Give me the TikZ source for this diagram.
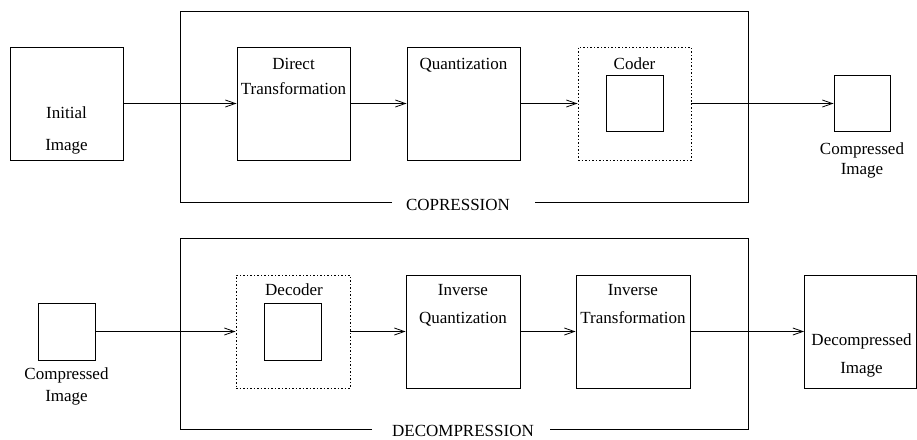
\documentclass[tikz,border=0pt]{standalone}
\usepackage{fontspec}
\setmainfont{Liberation Serif}
\usetikzlibrary{arrows.meta}
\begin{document}
\begin{tikzpicture}[x=1pt,y=-1pt,
  box/.style={draw,line width=0.9pt,inner sep=0pt,minimum width=113pt,minimum height=113pt},
  sbox/.style={draw,line width=0.9pt,inner sep=0pt,minimum width=57pt,minimum height=57pt},
  dbox/.style={box,dash pattern=on 1.5pt off 2pt},
  lbl/.style={anchor=base,inner sep=0pt,font=\fontsize{17}{20}\selectfont},
  frame/.style={line width=0.9pt},
  arr/.style={line width=0.9pt,-{Straight Barb[length=10pt,width=7pt,line width=0.8pt]}}]
\useasboundingbox (0,0) rectangle (917,439);
% ---------- compression ----------
\draw[frame] (392,202) -- (180,202) -- (180,11) -- (748,11) -- (748,202) -- (535,202);
\node[lbl] (lc) at (458,210) {COPRESSION};
\node[box] (init) at (66.5,103.5) {};
\node[lbl] at (66.5,118) {Initial};
\node[lbl] at (66.5,150) {Image};
\node[box] (direct) at (293.5,103.5) {};
\node[lbl] at (293.5,69) {Direct};
\node[lbl] at (293.5,94) {Transformation};
\node[box] (quant) at (463.5,103.5) {};
\node[lbl] at (463.5,69) {Quantization};
\node[dbox] (coder) at (634.5,103.5) {};
\node[lbl] at (634.5,69) {Coder};
\node[sbox,minimum height=56pt] (coderin) at (634.5,103) {};
\node[sbox,minimum width=56pt,minimum height=56pt] (comp) at (862,103.5) {};
\node[lbl] at (862,154) {Compressed};
\node[lbl] at (862,174) {Image};
\draw[arr] (init) -- (direct);
\draw[arr] (direct) -- (quant);
\draw[arr] (quant) -- (coder);
\draw[arr] (coder) -- (comp);
% ---------- decompression ----------
\draw[frame] (372,429) -- (180,429) -- (180,238) -- (748,238) -- (748,429) -- (550,429);
\node[lbl] (ld) at (463,436) {DECOMPRESSION};
\node[sbox] (cin) at (66.5,331.5) {};
\node[lbl] at (66.5,379) {Compressed};
\node[lbl] at (66.5,401) {Image};
\node[dbox,minimum width=114pt] (decoder) at (293,331.5) {};
\node[lbl] at (294,295) {Decoder};
\node[sbox] (decin) at (292.5,331.5) {};
\node[box,minimum width=114pt] (iq) at (463,331.5) {};
\node[lbl] at (463,295) {Inverse};
\node[lbl] at (463,323) {Quantization};
\node[box,minimum width=114pt] (it) at (633,331.5) {};
\node[lbl] at (633,295) {Inverse};
\node[lbl] at (633,323) {Transformation};
\node[box,minimum width=112pt] (dec) at (860.5,331.5) {};
\node[lbl] at (861.5,345) {Decompressed};
\node[lbl] at (861.5,373) {Image};
\draw[arr] (cin) -- (decoder);
\draw[arr] (decoder) -- (iq);
\draw[arr] (iq) -- (it);
\draw[arr] (it) -- (dec);
\end{tikzpicture}
\end{document}
